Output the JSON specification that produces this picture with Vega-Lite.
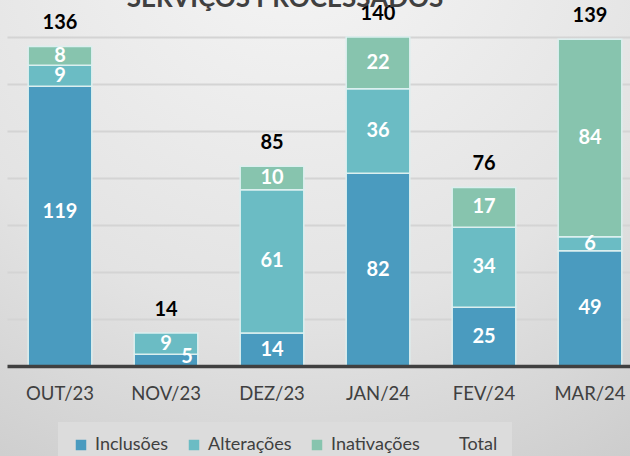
{
  "$schema": "https://vega.github.io/schema/vega-lite/v6.json",
  "width": 630,
  "height": 456,
  "autosize": {"type": "none"},
  "padding": 0,
  "background": "#d6d6d6",
  "config": {
    "view": {
      "stroke": null,
      "fill": {
        "gradient": "radial",
        "x1": 0.47, "y1": 0, "r1": 0,
        "x2": 0.47, "y2": 0, "r2": 1.15,
        "stops": [
          {"offset": 0, "color": "#f6f6f6"},
          {"offset": 0.55, "color": "#e3e3e3"},
          {"offset": 1, "color": "#c5c5c5"}
        ]
      }
    },
    "font": "Lato"
  },
  "title": {
    "text": "SERVIÇOS PROCESSADOS",
    "anchor": "middle",
    "fontSize": 26,
    "fontWeight": "bold",
    "color": "#404040",
    "font": "Lato",
    "dx": -30,
    "dy": 16
  },
  "data": {
    "values": [
      {"mes": "OUT/23", "serie": "Inclusões", "ordem": 1, "valor": 119},
      {"mes": "OUT/23", "serie": "Alterações", "ordem": 2, "valor": 9},
      {"mes": "OUT/23", "serie": "Inativações", "ordem": 3, "valor": 8},
      {"mes": "NOV/23", "serie": "Inclusões", "ordem": 1, "valor": 5},
      {"mes": "NOV/23", "serie": "Alterações", "ordem": 2, "valor": 9},
      {"mes": "DEZ/23", "serie": "Inclusões", "ordem": 1, "valor": 14},
      {"mes": "DEZ/23", "serie": "Alterações", "ordem": 2, "valor": 61},
      {"mes": "DEZ/23", "serie": "Inativações", "ordem": 3, "valor": 10},
      {"mes": "JAN/24", "serie": "Inclusões", "ordem": 1, "valor": 82},
      {"mes": "JAN/24", "serie": "Alterações", "ordem": 2, "valor": 36},
      {"mes": "JAN/24", "serie": "Inativações", "ordem": 3, "valor": 22},
      {"mes": "FEV/24", "serie": "Inclusões", "ordem": 1, "valor": 25},
      {"mes": "FEV/24", "serie": "Alterações", "ordem": 2, "valor": 34},
      {"mes": "FEV/24", "serie": "Inativações", "ordem": 3, "valor": 17},
      {"mes": "MAR/24", "serie": "Inclusões", "ordem": 1, "valor": 49},
      {"mes": "MAR/24", "serie": "Alterações", "ordem": 2, "valor": 6},
      {"mes": "MAR/24", "serie": "Inativações", "ordem": 3, "valor": 84}
    ]
  },
  "encoding": {
    "x": {
      "field": "mes",
      "type": "nominal",
      "scale": {
        "domain": ["OUT/23", "NOV/23", "DEZ/23", "JAN/24", "FEV/24", "MAR/24"],
        "range": [7, 643],
        "paddingInner": 0.4,
        "paddingOuter": 0.2
      },
      "axis": {
        "orient": "bottom",
        "offset": -90,
        "title": null,
        "labelAngle": 0,
        "ticks": false,
        "domainColor": "#404040",
        "domainWidth": 3.5,
        "labelFontSize": 18.5,
        "labelColor": "#404040",
        "labelFont": "Lato",
        "labelPadding": 18,
        "zindex": 1
      }
    }
  },
  "layer": [
    {
      "mark": {"type": "bar", "stroke": "#dcefef", "strokeWidth": 1.5},
      "encoding": {
        "y": {
          "field": "valor",
          "type": "quantitative",
          "stack": "zero",
          "scale": {"domain": [0, 140], "range": [366, 37], "nice": false, "zero": true},
          "axis": {
            "title": null,
            "labels": false,
            "ticks": false,
            "domain": false,
            "grid": true,
            "gridColor": "#d4d4d4",
            "gridWidth": 2,
            "values": [20, 40, 60, 80, 100, 120, 140]
          }
        },
        "order": {"field": "ordem", "type": "quantitative", "sort": "ascending"},
        "color": {
          "field": "serie",
          "type": "nominal",
          "scale": {
            "domain": ["Inclusões", "Alterações", "Inativações", "Total"],
            "range": ["#4a9bbf", "#6bbcc4", "#87c4ae", "transparent"]
          },
          "legend": {
            "orient": "none",
            "legendX": 58,
            "legendY": 422,
            "direction": "horizontal",
            "title": null,
            "symbolType": "square",
            "symbolSize": 110,
            "symbolStrokeWidth": 0,
            "symbolOpacity": 1,
            "labelFontSize": 18,
            "labelColor": "#404040",
            "labelFont": "Lato",
            "labelOffset": 5,
            "columnPadding": 16,
            "padding": 14,
            "fillColor": "#dcdcdc",
            "strokeColor": null
          }
        }
      }
    },
    {
      "mark": {"type": "text", "color": "white", "fontSize": 20, "fontWeight": "bold", "font": "Lato", "baseline": "middle"},
      "encoding": {
        "y": {"field": "valor", "type": "quantitative", "stack": "zero", "bandPosition": 0.5},
        "detail": {"field": "serie", "type": "nominal"},
        "order": {"field": "ordem", "type": "quantitative", "sort": "ascending"},
        "text": {"field": "valor", "type": "quantitative"},
        "opacity": {
          "condition": {"test": "datum.serie == 'Inclusões' && (datum.mes == 'NOV/23' || datum.mes == 'OUT/23')", "value": 0},
          "value": 1
        }
      }
    },
    {
      "transform": [{"filter": "datum.serie == 'Inclusões' && datum.mes == 'NOV/23'"}],
      "mark": {"type": "text", "color": "white", "fontSize": 20, "fontWeight": "bold", "font": "Lato", "baseline": "middle", "dx": 21, "dy": -3},
      "encoding": {
        "y": {"field": "valor", "type": "quantitative", "stack": "zero", "bandPosition": 0.5},
        "text": {"field": "valor", "type": "quantitative"}
      }
    },
    {
      "transform": [{"filter": "datum.serie == 'Inclusões' && datum.mes == 'OUT/23'"}],
      "mark": {"type": "text", "color": "white", "fontSize": 20, "fontWeight": "bold", "font": "Lato", "baseline": "middle", "dy": -14},
      "encoding": {
        "y": {"field": "valor", "type": "quantitative", "stack": "zero", "bandPosition": 0.5},
        "text": {"field": "valor", "type": "quantitative"}
      }
    },
    {
      "transform": [{"aggregate": [{"op": "sum", "field": "valor", "as": "total"}], "groupby": ["mes"]}],
      "mark": {"type": "text", "color": "#000000", "fontSize": 20, "fontWeight": "bold", "font": "Lato", "baseline": "alphabetic", "dy": -17},
      "encoding": {
        "y": {"field": "total", "type": "quantitative", "stack": null},
        "text": {"field": "total", "type": "quantitative"}
      }
    }
  ]
}
